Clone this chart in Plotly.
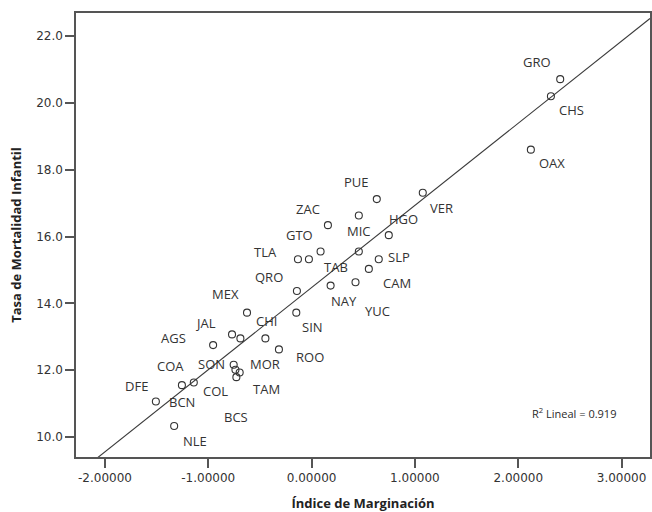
import numpy as np
import plotly.graph_objects as go

# ---- data ----
states = ["GRO", "CHS", "OAX", "VER", "PUE", "MIC", "ZAC", "HGO", "TAB", "GTO",
          "TLA", "DGO", "SLP", "CAM", "NAY", "YUC", "QRO", "SIN", "MEX", "JAL",
          "CHI", "MOR", "ROO", "AGS", "SON", "BCS", "TAM", "COL", "COA", "BCN",
          "DFE", "NLE"]
marginacion = [2.406, 2.316, 2.122, 1.076, 0.631, 0.457, 0.158, 0.747, 0.457, 0.087,
               -0.132, -0.026, 0.650, 0.554, 0.184, 0.425, -0.142, -0.148, -0.625, -0.770,
               -0.689, -0.447, -0.316, -0.953, -0.754, -0.737, -0.696, -0.728, -1.140, -1.255,
               -1.507, -1.330]
mortalidad = [20.71, 20.20, 18.60, 17.31, 17.12, 16.63, 16.34, 16.04, 15.55, 15.55,
              15.32, 15.32, 15.32, 15.03, 14.53, 14.63, 14.37, 13.72, 13.72, 13.07,
              12.95, 12.95, 12.62, 12.75, 12.16, 12.01, 11.93, 11.79, 11.63, 11.55,
              11.06, 10.33]
r2_text = "R<sup>2</sup> Lineal = 0.919"
x_ticks = [-2, -1, 0, 1, 2, 3]
y_ticks = [10, 12, 14, 16, 18, 20, 22]

# ---- layout configuration (label offsets in pixels, screen dx, dy) ----
label_offsets = {
    "GRO": (-23, -17), "CHS": (21, 14), "OAX": (21, 13), "VER": (19, 15),
    "PUE": (-20, -17), "MIC": (0, 16), "ZAC": (-20, -16), "HGO": (15, -16),
    "TAB": (-23, 15), "GTO": (-21, -17), "TLA": (-32, -7), "DGO": None,
    "SLP": (20, -2), "CAM": (28, 14), "NAY": (13, 15), "YUC": (22, 29),
    "QRO": (-28, -14), "SIN": (16, 14), "MEX": (-22, -19), "JAL": (-27, -11),
    "CHI": (26, -17), "MOR": (0, 26), "ROO": (31, 8), "AGS": (-40, -7),
    "SON": (-22, -1), "BCS": (1, 47), "TAM": (27, 17), "COL": (-21, 14),
    "COA": (-23, -17), "BCN": (0, 17), "DFE": (-19, -16), "NLE": (21, 15),
}
x_range = [-2.28, 3.275]
y_range = [9.40, 22.69]

x = np.array(marginacion)
y = np.array(mortalidad)
slope, intercept = np.polyfit(x, y, 1)
line_x = np.array(x_range)
line_y = slope * line_x + intercept

fig = go.Figure()
fig.add_trace(go.Scatter(
    x=line_x, y=line_y, mode="lines",
    line=dict(color="#3a3a3a", width=1.1), hoverinfo="skip", showlegend=False,
))
fig.add_trace(go.Scatter(
    x=marginacion, y=mortalidad, mode="markers",
    marker=dict(symbol="circle-open", size=7, color="#333333", line=dict(width=1.1)),
    text=states, showlegend=False,
))

annotations = []
for s, xv, yv in zip(states, marginacion, mortalidad):
    off = label_offsets.get(s)
    if off is None:
        continue
    annotations.append(dict(
        x=xv, y=yv, xref="x", yref="y", text=s, showarrow=False,
        xshift=off[0], yshift=-off[1], xanchor="center", yanchor="middle",
        font=dict(family="Open Sans", size=13, color="#333333"),
    ))
annotations.append(dict(
    x=0.868, y=0.1, xref="paper", yref="paper", text=r2_text, showarrow=False,
    xanchor="center", yanchor="middle",
    font=dict(family="Open Sans", size=11, color="#2a2a2a"),
))

axis_common = dict(
    showgrid=False, zeroline=False, showline=True, mirror=True,
    linecolor="#555555", linewidth=1.5, ticks="outside", ticklen=9,
    tickwidth=1.5, tickcolor="#555555",
    tickfont=dict(family="DejaVu Sans", size=12, color="#333333"),
)

fig.update_layout(
    width=652, height=512,
    margin=dict(l=76, r=2, t=13, b=55),
    paper_bgcolor="white", plot_bgcolor="white",
    xaxis=dict(
        range=x_range, tickvals=x_ticks,
        ticktext=[f"{v:.5f}" for v in x_ticks],
        title=dict(text="<b>Índice de Marginación</b>", standoff=16,
                   font=dict(family="Open Sans", size=13, color="#222222")),
        automargin=False, **axis_common,
    ),
    yaxis=dict(
        range=y_range, tickvals=y_ticks,
        ticktext=[f"{v:.1f}" for v in y_ticks],
        title=dict(text="<b>Tasa de Mortalidad Infantil</b>", standoff=12,
                   font=dict(family="Open Sans", size=13, color="#222222")),
        automargin=False, **axis_common,
    ),
    annotations=annotations,
)

fig.write_html("out.html", config={"displayModeBar": False},
               post_script="document.body.style.margin='0';")
